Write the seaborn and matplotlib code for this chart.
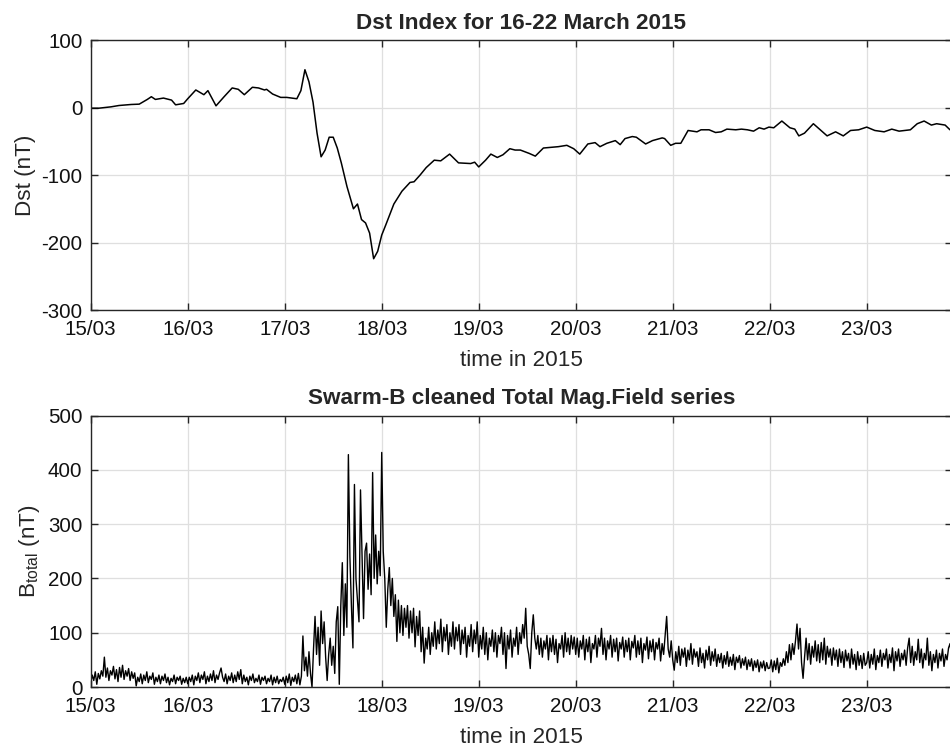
import numpy as np
import pandas as pd
import matplotlib
matplotlib.use("Agg")
import matplotlib.pyplot as plt
import matplotlib.dates as mdates
import seaborn as sns

# ---------------- data ----------------
start_date = "2015-03-15"
x_end_date = "2015-03-23 21:06"

# Dst index: hours after 15/03 00:00 and values (nT)
dst_hours = [0, 2, 5, 7, 10, 12, 14, 15, 16, 18, 20, 21, 23, 24, 26, 28, 29, 31, 33, 35,
             36.5, 38, 40, 41.5, 43, 43.5, 45, 47, 48.5, 51, 52, 53, 54, 55, 56, 57, 58, 59,
             60, 61, 62, 63.4, 65, 66, 67, 68, 69, 70, 71, 72, 73, 75, 77, 79, 80, 81.5, 83,
             85, 86.6, 88.8, 91, 94, 95, 96, 97.7, 99, 100.6, 102, 103.7, 105, 106.3, 108.5,
             110, 112, 113.8, 115.7, 117.8, 119.5, 121, 123, 124.8, 126, 127.7, 129.8, 131,
             132.2, 134, 135, 137.3, 139, 141.4, 142, 143.5, 144.7, 146, 147.8, 150, 151, 153,
             154.6, 156, 157.4, 159.6, 161, 162.5, 164, 165.4, 166.6, 167.8, 169, 171, 173,
             174.2, 175.2, 176.6, 178.8, 180.5, 182.2, 184.3, 186.2, 188, 190, 192, 194, 196.3,
             198.2, 200, 202.8, 204.5, 206.2, 208, 209.3, 211.4, 212.6]
dst_values = [-1, -1, 1, 3, 4.5, 5, 12, 16, 12, 14, 11, 4, 6, 13, 26, 19, 25, 2.5, 16, 29,
              27, 19, 30, 29, 26, 27, 20, 15, 15, 13, 25, 56, 38, 8, -38, -73, -63, -44,
              -44, -60, -82, -117, -150, -143, -166, -171, -186, -224, -213, -189, -174, -143, -124, -111, -110, -100, -89,
              -78, -79, -69, -82, -83, -81, -88, -78, -69, -74, -70, -61, -63, -63, -68,
              -72, -60, -59, -58, -56, -61, -69, -54, -52, -58, -53, -49, -55,
              -46, -43, -44, -54, -49, -45, -46, -56, -53, -53, -34, -36, -33, -33,
              -37, -36, -32, -33, -32, -33, -35, -30, -32, -29, -30, -20, -30,
              -32, -42, -38, -24, -33, -42, -36, -42, -34, -33, -29, -34, -36,
              -32, -35, -33, -24, -20, -26, -24, -26, -33]

# Swarm-B total field (nT), one reading every 22.5 minutes, per day
b_step_minutes = 22.5
b_day15 = [8, 22, 12, 28, 5, 25, 15, 30, 20, 55, 18, 35, 12, 30, 22, 38,
           15, 32, 10, 36, 18, 40, 14, 30, 20, 34, 12, 28, 16, 26, 2, 18,
           10, 24, 6, 22, 12, 28, 8, 20, 14, 26, 5, 18, 10, 22, 6, 20,
           12, 24, 8, 18, 4, 16, 10, 22, 6, 18, 12, 20, 5, 16, 8, 18]
b_day16 = [6, 18, 10, 22, 4, 20, 12, 26, 8, 22, 14, 28, 6, 20, 10, 24,
           12, 30, 8, 22, 14, 26, 35, 18, 10, 24, 6, 20, 12, 26, 8, 22,
           10, 28, 14, 32, 6, 22, 10, 18, 4, 20, 12, 24, 8, 16, 10, 22,
           5, 18, 12, 20, 6, 16, 10, 22, 4, 18, 8, 20, 6, 14, 10, 18]
b_day17 = [5, 20, 8, 24, 3, 18, 10, 22, 6, 25, 4, 20, 94, 30, 55, 20,
           65, 25, 0, 70, 130, 60, 110, 40, 140, 80, 120, 55, 12, 60, 90, 40,
           75, 25, 120, 148, 5, 150, 229, 95, 190, 110, 428, 240, 150, 72, 373, 200,
           160, 120, 363, 240, 126, 250, 265, 180, 245, 170, 395, 200, 280, 190, 250, 205]
b_day18 = [432, 250, 200, 110, 180, 220, 150, 200, 130, 170, 84, 160, 100, 150, 95, 145,
           110, 150, 90, 140, 100, 145, 74, 130, 95, 140, 65, 110, 44, 90, 70, 110,
           60, 100, 75, 120, 70, 105, 80, 125, 65, 110, 85, 115, 60, 100, 75, 120,
           70, 110, 85, 115, 60, 105, 80, 110, 55, 95, 75, 115, 65, 105, 80, 120]
b_day19 = [55, 95, 70, 110, 60, 100, 50, 90, 75, 105, 65, 100, 55, 95, 80, 110,
           60, 100, 34, 95, 70, 105, 55, 90, 75, 110, 60, 100, 80, 115, 90, 145,
           75, 60, 34, 100, 133, 90, 70, 95, 60, 90, 55, 85, 70, 95, 50, 90,
           65, 95, 60, 88, 45, 80, 70, 95, 55, 100, 65, 90, 60, 95, 70, 92]
b_day20 = [60, 90, 55, 85, 70, 95, 50, 88, 65, 92, 45, 80, 70, 95, 55, 90,
           75, 108, 60, 90, 50, 85, 70, 95, 55, 88, 65, 90, 48, 82, 70, 92,
           55, 86, 65, 90, 50, 84, 72, 95, 55, 85, 60, 90, 45, 80, 68, 92,
           52, 85, 65, 88, 50, 82, 70, 90, 48, 80, 60, 95, 130, 70, 55, 85]
b_day21 = [50, 31, 65, 45, 75, 40, 70, 55, 72, 38, 68, 50, 80, 42, 70, 55,
           65, 38, 72, 45, 62, 35, 68, 50, 75, 40, 65, 48, 70, 38, 60, 45,
           62, 35, 58, 42, 65, 38, 55, 40, 60, 32, 55, 45, 58, 35, 52, 40,
           55, 32, 50, 38, 52, 30, 48, 36, 50, 28, 46, 35, 48, 30, 45, 34]
b_day22 = [35, 50, 28, 48, 32, 53, 26, 45, 38, 52, 40, 65, 45, 78, 50, 80,
           60, 85, 116, 70, 108, 45, 16, 55, 90, 50, 80, 42, 75, 55, 85, 48,
           78, 45, 82, 50, 90, 42, 75, 55, 70, 40, 72, 50, 68, 38, 70, 45,
           65, 36, 68, 48, 62, 35, 70, 42, 60, 32, 65, 40, 58, 34, 62, 40]
b_day23 = [45, 65, 35, 60, 42, 70, 32, 58, 45, 68, 38, 62, 50, 70, 35, 60,
           45, 72, 30, 65, 48, 70, 38, 62, 50, 68, 40, 72, 90, 45, 75, 40,
           65, 50, 88, 45, 70, 35, 62, 50, 90, 40, 65, 30, 60, 45, 68, 35,
           62, 48, 70, 38, 60, 50, 72, 80, 55]

b_values = b_day15 + b_day16 + b_day17 + b_day18 + b_day19 + b_day20 + b_day21 + b_day22 + b_day23

top_title = "Dst Index for 16-22 March 2015"
bottom_title = "Swarm-B cleaned Total Mag.Field series"
x_label = "time in 2015"
dst_ylabel = "Dst (nT)"
b_ylabel = r"B$_{\mathrm{total}}$ (nT)"
dst_yticks = [-300, -200, -100, 0, 100]
b_yticks = [0, 100, 200, 300, 400, 500]

# ---------------- frames ----------------
t0 = pd.Timestamp(start_date)
dst_df = pd.DataFrame({"time": t0 + pd.to_timedelta(dst_hours, unit="h"), "Dst": dst_values})
b_df = pd.DataFrame({"time": t0 + pd.to_timedelta(np.arange(len(b_values)) * b_step_minutes, unit="min"),
                     "B": b_values})

# ---------------- style ----------------
sns.set_theme(style="whitegrid")
plt.rcParams["font.family"] = ["Liberation Sans", "DejaVu Sans"]
plt.rcParams["mathtext.fontset"] = "custom"
plt.rcParams["mathtext.rm"] = "Liberation Sans"
plt.rcParams["mathtext.it"] = "Liberation Sans:italic"
plt.rcParams["axes.unicode_minus"] = False

fig = plt.figure(figsize=(9.5, 7.51), dpi=100)
ax1 = fig.add_axes([0.0955, 0.5872, 0.9066, 0.3595])
ax2 = fig.add_axes([0.0955, 0.0852, 0.9066, 0.3615])

sns.lineplot(data=dst_df, x="time", y="Dst", ax=ax1, color="black", linewidth=1.1)
sns.lineplot(data=b_df, x="time", y="B", ax=ax2, color="black", linewidth=1.0)

spine_col = "#262626"
for ax, yt, title, ylab in [(ax1, dst_yticks, top_title, dst_ylabel),
                            (ax2, b_yticks, bottom_title, b_ylabel)]:
    ax.set_facecolor("white")
    ax.set_xlim(pd.Timestamp(start_date), pd.Timestamp(x_end_date))
    ax.set_ylim(yt[0], yt[-1])
    ax.set_yticks(yt)
    ax.xaxis.set_major_locator(mdates.DayLocator())
    ax.xaxis.set_major_formatter(mdates.DateFormatter("%d/%m"))
    ax.grid(True, color="#dfdfdf", linewidth=0.9)
    for s in ax.spines.values():
        s.set_color(spine_col)
        s.set_linewidth(1.0)
    ax.tick_params(axis="both", direction="in", length=5, width=1.0, color=spine_col,
                   labelsize=14.8, labelcolor="#111111", top=True, right=True, bottom=True, left=True)
    ax.tick_params(axis="x", pad=7)
    ax.tick_params(axis="y", pad=6)
    ax.set_title(title, fontsize=16.2, fontweight="bold", pad=8)
    ax.set_xlabel(x_label, fontsize=16.2, labelpad=8)
    ax.set_ylabel(ylab, fontsize=16.2, labelpad=4)

fig.savefig("out.png", dpi=100, facecolor="white")
